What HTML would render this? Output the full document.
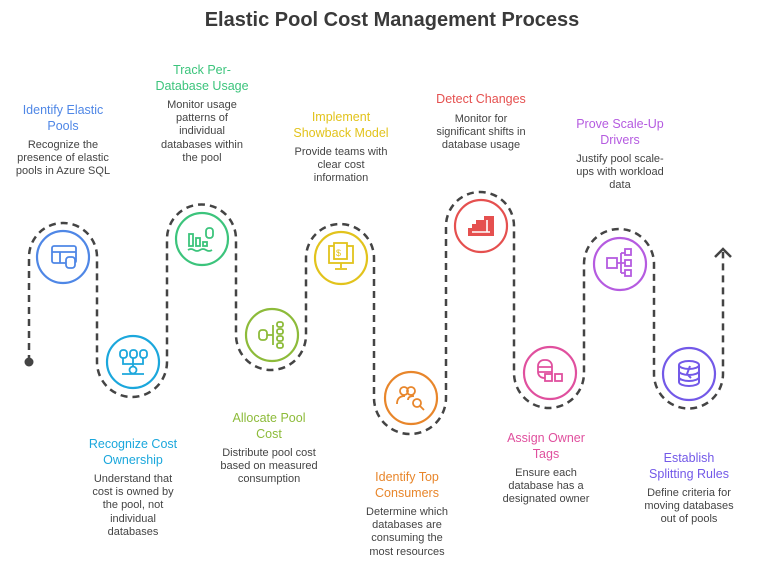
<!DOCTYPE html>
<html><head><meta charset="utf-8"><style>
body{margin:0;width:784px;height:574px;background:#fff;font-family:"Liberation Sans",sans-serif;position:relative;overflow:hidden}
h1{position:absolute;top:9px;left:0;width:784px;text-align:center;margin:0;font-size:20px;font-weight:bold;color:#3a3a3a}
.b{position:absolute;width:110px;text-align:center}
.t{font-size:12.5px;line-height:15.5px}
.d{font-size:11px;line-height:13.2px;color:#444;margin-top:5px}
</style></head><body>
<h1>Elastic Pool Cost Management Process</h1>
<svg width="784" height="574" style="position:absolute;left:0;top:0">
<path d="M29,362 V257 A34,34 0 0 1 97,257 V362 A35,35 0 0 0 167,362 V239 A34.5,34.5 0 0 1 236,239 V335 A35,35 0 0 0 306,335 V258 A34,34 0 0 1 374,258 V398 A36,36 0 0 0 446,398 V226 A34,34 0 0 1 514,226 V373 A35,35 0 0 0 584,373 V264 A35,35 0 0 1 654,264 V374 A34.5,34.5 0 0 0 723,374 V252" fill="none" stroke="#444" stroke-width="2.5" stroke-dasharray="7,5"/>
<circle cx="29" cy="362" r="4.5" fill="#444"/>
<path d="M715,257 L723,249 L731,257" fill="none" stroke="#444" stroke-width="2.5"/>
<g fill="none" stroke-width="2.2">
<circle cx="63" cy="257" r="26" stroke="#4f87e6"/>
<circle cx="133" cy="362" r="26" stroke="#1ba7dc"/>
<circle cx="202" cy="239" r="26" stroke="#3cc47c"/>
<circle cx="272" cy="335" r="26" stroke="#8dbb3a"/>
<circle cx="341" cy="258" r="26" stroke="#e2c31c"/>
<circle cx="411" cy="398" r="26" stroke="#e8862b"/>
<circle cx="481" cy="226" r="26" stroke="#e5504f"/>
<circle cx="550" cy="373" r="26" stroke="#e0509e"/>
<circle cx="620" cy="264" r="26" stroke="#b55be0"/>
<circle cx="689" cy="374" r="26" stroke="#7359e8"/>
</g>
<g fill="none" stroke-width="1.8">
<g stroke="#4f87e6"><rect x="52" y="246" width="24" height="17" rx="2"/><line x1="52" y1="252" x2="76" y2="252"/><line x1="60" y1="252" x2="60" y2="263"/><rect x="66" y="257" width="9" height="11" rx="3" fill="#fff"/></g>
<g stroke="#1ba7dc"><rect x="120" y="350" width="7" height="8" rx="3"/><rect x="130" y="350" width="7" height="8" rx="3"/><rect x="140" y="350" width="7" height="8" rx="3"/><path d="M123,358 v6 h10 M133,358 v8 M143,358 v6 h-10"/><circle cx="133" cy="370" r="3.5"/><path d="M122,374 h22"/></g>
<g stroke="#3cc47c"><rect x="189" y="234" width="4" height="12"/><rect x="196" y="238" width="4" height="8"/><rect x="203" y="242" width="4" height="4"/><rect x="206" y="228" width="7" height="10" rx="3"/><path d="M188,250 q3,-2 6,0 t6,0 t6,0 t6,0"/></g>
<g stroke="#8dbb3a"><rect x="259" y="330" width="8" height="10" rx="3"/><path d="M267,335 h6 M273,325 v20"/><rect x="277" y="322" width="6" height="5" rx="2"/><rect x="277" y="329" width="6" height="5" rx="2"/><rect x="277" y="336" width="6" height="5" rx="2"/><rect x="277" y="343" width="6" height="5" rx="2"/></g>
<g stroke="#e2c31c"><rect x="329" y="246" width="24" height="17"/><rect x="334" y="243" width="13" height="16" fill="#fff"/><path d="M341,268 v-5 M335,269 h12"/></g>
<text x="336" y="256" font-size="9" fill="#e2c31c" font-family="Liberation Sans">$</text>
<g stroke="#e8862b"><circle cx="404" cy="391" r="4"/><circle cx="411" cy="391" r="4"/><path d="M397,404 q0,-8 8,-8 M408,400 q0,-4 6,-4"/><circle cx="417" cy="403" r="4"/><path d="M420,406 l4,4"/></g>
<g fill="#e5504f" stroke="none"><path d="M468,216 h26 v20 h-26 v-8 h4 v-4 h4 v-4 h8 v-4 h-16z"/></g>
<path d="M472,232 h18 M487,220 v12" stroke="#fff" stroke-width="1.6"/>
<g stroke="#e0509e"><rect x="538" y="360" width="14" height="18" rx="6"/><path d="M538,367 h14 M538,372 h14"/><rect x="545" y="374" width="7" height="7" fill="#fff"/><rect x="555" y="374" width="7" height="7" fill="#fff"/></g>
<g stroke="#b55be0"><rect x="607" y="258" width="10" height="10"/><path d="M617,263 h4 M621,253 v20 M621,253 h4 M621,263 h4 M621,273 h4"/><rect x="625" y="249" width="6" height="6"/><rect x="625" y="260" width="6" height="6"/><rect x="625" y="270" width="6" height="6"/></g>
<g stroke="#7359e8" stroke-width="2"><ellipse cx="689" cy="365" rx="10" ry="4"/><path d="M679,365 v17 a10,4 0 0 0 20,0 v-17 M679,371 a10,4 0 0 0 20,0 M679,377 a10,4 0 0 0 20,0 M690,366 l-3,8 l4,4"/></g>
</g>
</svg>
<div class="b" style="left:8px;top:103px"><div class="t" style="color:#4f87e6">Identify Elastic<br>Pools</div><div class="d">Recognize the<br>presence of elastic<br>pools in Azure SQL</div></div>
<div class="b" style="left:147px;top:63px"><div class="t" style="color:#3cc47c">Track Per-<br>Database Usage</div><div class="d">Monitor usage<br>patterns of<br>individual<br>databases within<br>the pool</div></div>
<div class="b" style="left:286px;top:110px"><div class="t" style="color:#e2c31c">Implement<br>Showback Model</div><div class="d">Provide teams with<br>clear cost<br>information</div></div>
<div class="b" style="left:426px;top:92px"><div class="t" style="color:#e5504f">Detect Changes</div><div class="d">Monitor for<br>significant shifts in<br>database usage</div></div>
<div class="b" style="left:565px;top:117px"><div class="t" style="color:#b55be0">Prove Scale-Up<br>Drivers</div><div class="d">Justify pool scale-<br>ups with workload<br>data</div></div>
<div class="b" style="left:78px;top:437px"><div class="t" style="color:#1ba7dc">Recognize Cost<br>Ownership</div><div class="d">Understand that<br>cost is owned by<br>the pool, not<br>individual<br>databases</div></div>
<div class="b" style="left:214px;top:411px"><div class="t" style="color:#8dbb3a">Allocate Pool<br>Cost</div><div class="d">Distribute pool cost<br>based on measured<br>consumption</div></div>
<div class="b" style="left:352px;top:470px"><div class="t" style="color:#e8862b">Identify Top<br>Consumers</div><div class="d">Determine which<br>databases are<br>consuming the<br>most resources</div></div>
<div class="b" style="left:491px;top:431px"><div class="t" style="color:#e0509e">Assign Owner<br>Tags</div><div class="d">Ensure each<br>database has a<br>designated owner</div></div>
<div class="b" style="left:634px;top:451px"><div class="t" style="color:#7359e8">Establish<br>Splitting Rules</div><div class="d">Define criteria for<br>moving databases<br>out of pools</div></div>
</body></html>
